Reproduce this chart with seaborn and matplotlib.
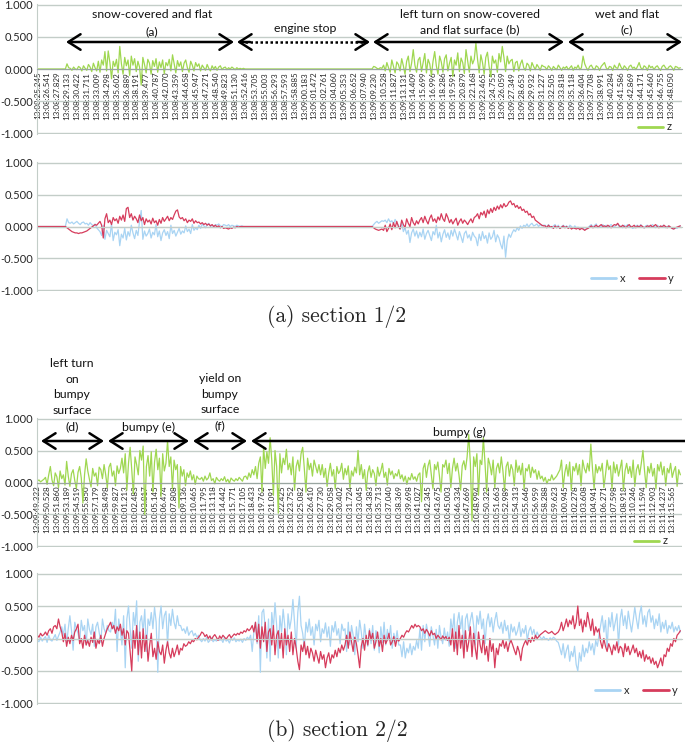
import matplotlib
matplotlib.use("Agg")
import matplotlib.pyplot as plt
from matplotlib.patches import FancyArrowPatch
from matplotlib.lines import Line2D
import seaborn as sns
import pandas as pd

# ---- data (values in 1/100 g, 6 samples per time label) ----
top_ticks = ["13:08:25.245", "13:08:26.541", "13:08:27.829", "13:08:29.133", "13:08:30.422",
             "13:08:31.711", "13:08:33.009", "13:08:34.298", "13:08:35.602", "13:08:36.889",
             "13:08:38.191", "13:08:39.477", "13:08:40.787", "13:08:42.070", "13:08:43.359",
             "13:08:44.658", "13:08:45.947", "13:08:47.271", "13:08:48.540", "13:08:49.823",
             "13:08:51.130", "13:08:52.416", "13:08:53.705", "13:08:55.003", "13:08:56.293",
             "13:08:57.593", "13:08:58.885", "13:09:00.183", "13:09:01.472", "13:09:02.761",
             "13:09:04.060", "13:09:05.353", "13:09:06.652", "13:09:07.940", "13:09:09.230",
             "13:09:10.528", "13:09:11.827", "13:09:13.131", "13:09:14.409", "13:09:15.699",
             "13:09:16.996", "13:09:18.286", "13:09:19.591", "13:09:20.879", "13:09:22.168",
             "13:09:23.465", "13:09:24.755", "13:09:26.059", "13:09:27.349", "13:09:28.653",
             "13:09:29.932", "13:09:31.227", "13:09:32.505", "13:09:33.818", "13:09:35.118",
             "13:09:36.404", "13:09:37.708", "13:09:38.991", "13:09:40.284", "13:09:41.586",
             "13:09:42.869", "13:09:44.171", "13:09:45.460", "13:09:46.755", "13:09:48.050"]

bot_ticks = ["13:09:49.322", "13:09:50.528", "13:09:51.860", "13:09:53.189", "13:09:54.519",
             "13:09:55.850", "13:09:57.179", "13:09:58.498", "13:09:59.827", "13:10:01.213",
             "13:10:02.483", "13:10:03.817", "13:10:05.145", "13:10:06.474", "13:10:07.808",
             "13:10:09.136", "13:10:10.465", "13:10:11.795", "13:10:13.118", "13:10:14.442",
             "13:10:15.771", "13:10:17.105", "13:10:18.433", "13:10:19.762", "13:10:21.091",
             "13:10:22.425", "13:10:23.752", "13:10:25.082", "13:10:26.410", "13:10:27.730",
             "13:10:29.058", "13:10:30.402", "13:10:31.724", "13:10:33.045", "13:10:34.383",
             "13:10:35.713", "13:10:37.040", "13:10:38.369", "13:10:39.698", "13:10:41.027",
             "13:10:42.345", "13:10:43.675", "13:10:45.003", "13:10:46.334", "13:10:47.669",
             "13:10:48.994", "13:10:50.322", "13:10:51.663", "13:10:52.989", "13:10:54.313",
             "13:10:55.646", "13:10:56.959", "13:10:58.288", "13:10:59.623", "13:11:00.945",
             "13:11:02.278", "13:11:03.608", "13:11:04.941", "13:11:06.271", "13:11:07.598",
             "13:11:08.918", "13:11:10.246", "13:11:11.594", "13:11:12.903", "13:11:14.237",
             "13:11:15.565"]

top_z = ([0] * 18 + [8, 2,
          1, -2, 3, 0, -1, 4, 2, -3, 5, 1, -2, 7, 3, -4, 9, 2, -3, 12,
          -5, 14, 6, 27, -3, 28, 10, -15, 12, 4, 15, -6, 35, 8, -8, 18, 5, 14, -10, 20,
          6, 16, -4, 12, 3, -25, 18, 7, -6, 15, 9, -8, 13, 4, 16, -5, 11, 2, 14, -7,
          10, 5, 15, -3, 22, 8, -6, 13, 4, 11, -4, 9, 14, 2, -5, 12, 6, -3, 10, 4,
          8, -3, 6, 2, -2, 7, 1, -3, 5, 0, 4, -2, 3, 5, -1, 2, 3, -1, 2, 0, 3, 1, -1, 2, 0, 1, 0, 1]
         + [0] * 78 +
         [4, 3, 1, 0, 2, 1,
          6, -3, 10, 2, -5, 14, 4, -6, 11, 7, -3, 16, 5, -8, 12, 20, -4, 9, 30, 6, -5, 14,
          18, -4, 10, 24, -6, 15, 8, -10, 12, 27, 5, -8, 20, 11, -5, 16, 22, -3, 9, 18,
          -12, 14, 6, 25, -4, 17, 10, -7, 30, 12, -5, 20, 8, 15,
          40, 15, -6, 22, 10, -8, 18, 26, 4, -12, 20, 9, 14, -5, 24, 11, 35, 18, -4, 20, 8, 13,
          15, -4, 10, 12, -3, 8, 14, 2, -2, 9, 6, -3, 10, 4, -1, 7, 3, -2, 6, 4,
          3, -1, 5, 2, -2, 4, 1, -1, 6, 2, -2, 3, 1, 4, -1, 2, 5, -2, 3, 1, 6, -1, 2, 20,
          8, 2, -2, 4, 6, 1, -1, 5, 3, -2, 4, 7, 10, 2, -1, 4, 3, -2, 6, 2, 1, 9, 3, -1,
          5, 2, -2, 4, 6, 1, 3, -1, 4, 10, 2, -1, 5, 3, -2, 6, 2, 4, -1, 3, 5, 1, -2, 4,
          6, 2, -1, 3, 5, 2, -2, 4, 3, 1, 2])

top_x = ([0] * 18 + [12, 6,
          5, 7, 4, 6, 8, 5, 3, 6, 7, 4, 5, 2, 6, 3, 1, 4, -2, -5,
          -8, -14, 2, -20, -6, -11, -16, 4, -22, -9, -13, -5, -30, -12, -18, -3, -21, -8, -15, 2,
          -10, -19, -6, -14, 8, 25, -20, -7, -15, -11, -4, -18, -9, -13, 3, -16, -7, -22, -10, -5,
          -14, -8, -19, 2, -11, -6, -15, -9, -3, -12, -7, -10, 1, -8, -4, -11, 3, -6, -2, -5,
          2, -3, 4, 1, -2, 3, 5, 0, 2, -1, 3, 2, 4, 1, 0, 3, 2, 1, 3, 0, 2, 1, 0, 2, 1, 0, 1, 0]
         + [0] * 78 +
         [3, 6, 8, 5, 7, 9,
          8, 10, 6, 12, 7, 9, 4, 11, 5, 2, -4, 6, -8, -2, -12, -6, -25, -10, -4, -15, -7, -18,
          -9, -16, -4, -20, -11, -6, -14, -22, -8, -13, 2, -18, -9, -24, -12, -5, -17, -10, -20, -6,
          -15, -4, -12, -21, -8, -16, -25, -11, -7, -18, -13, -22, -9, -15,
          -18, -30, -12, -22, -8, -19, -14, -26, -10, -20, -16, -6, -24, -13, -18, -28, -35, -15,
          -48, -22, -12, -17,
          -10, -5, -8, -2, -6, 1, -3, 2, 0, 4, -1, 3, 5, 1, 2, 4, 0, 3, 1, 2,
          2, -1, 3, 0, -2, 1, 3, -1, 2, -3, 0, 2, -1, 1, -2, 2, 0, -3, 1, -2, -1, -4, -2, -3,
          -5, -4, -2, 1, 3, -1, 2, 4, -2, 1, 0, 3, -1, 2, -2, 1, 3, 0, -1, 2, 4, -1, 1, -2,
          2, 0, 3, -1, 1, -3, -2, 1, 2, -1, 3, 0, -2, 1, 2, -1, 0, 3, 1, -2, 2, 0, -1, 1,
          2, -2, 0, 1, -1, -3, -4, -2, -3, 0, 1])

top_y = ([0] * 18 + [-2, -4,
          -6, -8, -9, -10, -10, -11, -10, -10, -9, -8, -7, -5, -3, -1, 1, 3, 2, 5,
          8, 2, -18, 12, 20, 6, 10, 3, 14, 9, 12, 5, 16, 10, 18, 8, 28, 30, 14, 20,
          10, 16, 12, 6, 18, 9, 14, 3, 12, 7, 10, 4, 13, 6, 9, 2, 11, 5, 14, 8,
          12, 16, 9, 14, 11, 18, 24, 26, 15, 12, 14, 9, 12, 6, 10, 8, 12, 5, 9, 6,
          7, 4, 6, 3, 5, 2, 4, 1, 3, 0, 2, -1, 1, -2, 0, -3, -2, -3, -4, -2, -3, -1, -2, 0, -1, 0, 0, 0]
         + [0] * 78 +
         [-2, -4, -5, -6, -5, -4,
          -6, 2, -8, -3, 4, -5, 6, -2, 8, 0, -4, 10, 3, -2, 12, 5, 0, 14, 6, 2, 9, 4,
          10, 14, 6, 16, 9, 4, 13, 18, 8, 12, 6, 15, 10, 20, 12, 8, 20, 14, 6, 11,
          4, 9, 13, 2, 8, 12, 5, 10, 7, 3, 8, 12, 6, 14,
          16, 20, 12, 22, 18, 24, 14, 26, 20, 28, 22, 30, 25, 32, 27, 34, 29, 36, 31, 33, 38, 40,
          34, 36, 30, 33, 28, 31, 25, 27, 22, 24, 18, 20, 14, 16, 10, 8, 6, 4, 2, 1,
          1, -2, 2, -1, 0, -3, 1, -2, 0, -3, -1, 1, -2, 0, -3, -1, -4, -2, -3, -4, -2, -5, -3, -4,
          -6, -4, -3, -1, 1, -2, 0, 2, -1, 1, 3, 0, 1, -1, 2, 0, -2, 1, 3, 2, 5, 1, -1, 2,
          0, -2, 1, 3, -1, 0, 2, -2, 1, -1, 2, 0, -2, -1, 1, 0, 2, -1, 1, 3, 0, -2, 1, -1,
          2, 0, -2, 1, -1, -3, -4, -2, -1, 0, 1])

bot_z = [2, 4, 1, 3, 5,
         8, -3, 12, 25, 4, -5, 15, 9, -8, 18, 6, 12, -4, 33, 10, -6, 14, 20, 3, -9,
         16, 25, 7, -32, 12, 37, 18, 5, -7, 22, 10, 15, -5, 24,
         20, 6, 28, 12, -8, 24, 30, 10, 18, -5, 26, 14,
         22, 38, 15, 45, -12, 30, 55, 20, -18, 40, 28, 12, 50, 35, 57, -50, 25, 42, 10, 48,
         -15, 32, 52, 20, 38, -22, 45, 18, 30, 65, 25, 40, -10, 35, 20, 28, -40,
         25, 10, 20, -5, 15, 8, 18, 4, 12, -3, 10, 6,
         5, 8, 2, 10, 4, 7, 15, 3, 6, -2, 8, 4, 2, 6, 3, 9, 1, 5, -1, 7, 4, 2, 6, 3, 8, 5, 2, 9,
         10, 5, 15, 8, 20, 12, 25, 6, 30,
         40, -15, 55, 22, 48, 30, 70, 35, -20, 50, 25, -48, 45, 15, 38, 28, 52, 20,
         30, 12, 40, -12, 25, 35, 18, 45, 55, 22, -15, 38, 20, 30, 10, 35, 25, 15, 28,
         12, 28, 8, 22, -6, 15, 30, 10, 20, -10, 25, 14, 18, 30, 5, 22, 12, 26, -8, 18,
         10, 24, 15, 50, 12, 28, 6, 20, -12, 16, 26, 8, 20, 14, -5, 24, 10, 18, 30, 8,
         16, -4, 22, 12, 18, 6, 14, 10, 20,
         6, 12, 2, 10, -3, 8, 4, 14, 5, 9, 2, 12,
         15, -30, 22, 30, 8, 26, 35, 12, -10, 28, 20, 32, 10, -15, 28, 24, 35, 14, 30, -8,
         22, 38, 18, 30, 12, -12, 26, 34, 20, 40, 75,
         30, -60, 40, 25, 45, -20, 35, 28, 70, 30, -15, 38,
         28, 12, 35, -8, 22, 30, 15, 40, 18, -12, 25, 32, 10, 28, 20, -5, 35, 16, 26, 12,
         30, -10, 22, 18, 28, 8, 24, 15, 20, 5, 18,
         6, 10, 2, 8, -2, 5, 3, 12, 4, 7, 10, 15,
         20, 35, -8, 15, 28, 10, 32, -12, 25, 18, 30, 12, 28, -5, 35, 22, 15, 30, 18, 60,
         22, -10, 28, 15, 25,
         18, 30, -8, 12, 35, 20, 26, -10, 32, 15, 28, 10, 22, 35, -12, 18, 30, 14, 25, 8,
         35, -6, 20, 28, 12, 30, 50, 18, -8, 25, 15, 30, 10, 22, -10, 28, 18, 32, 12, 25,
         -5, 22, 15, 30, 8, 18, 25, -6, 20, 12]

bot_x = [-3, -5, 2, -4, 0, 3, -6, 5, -2, -4, 1, 6, -3, 4,
         10, 18, 5, 22, -8, 15, 35, 12, -18, 25, 15, 8, -5, 28, 12, 20, -10, 30, 14, 6,
         22, -12, 18, 25, 10, -6, 30, 15, 8, 20, 12,
         10, 25, 15, 45, -20, 30, 12, -10, 35, -45, 30, 50, 15, -15, 40, 20, 58, -35, 25, 35,
         10, 45, -20, 30, 20, 40, 15,
         48, 25, -52, 30, 50, 15, 35, 42, -10, 38, 20, 45, 25, 15, 35, 20,
         20, 12, 15, 8, 18, 5, 10, 12, 4, 8, 2, 5,
         -2, -5, 0, -4, 2, -6, -3, 1, -5, -2, -4, 0, -3, -1, -6, 2, -4, -2, -7, 0,
         -3, 1, -5, -2, -4, -1, -6, 0, -3, 2, -1,
         5, -20, 10, 25, -8, 35, -52, 40, 45, 15, -30, 30, -35, 40, 15, 55, 20, -30, 35, 10,
         45, 20, -25, 38, 15, 30, 60, 25, -15, 40, 65,
         20, 8, -15, 25, 10, 30, 5, 18, -10, 22, 12, 28, -5, 15, 8, 24, 2, 18, -12, 20,
         10, 26, 5, 15, -8, 22, 12,
         15, -20, 25, -10, 20, 5, -25, 18, -5, 28, 10, -15, 22, 0, -12, 15, -8, 20, -18, 12,
         5, -22, 18, -6, 25, -10, 14, -2, 20, -15, 8, -5, 12, -10,
         -10, -28, -5, -30, -15, -22, -8, -25, -12, -18, -3, -15,
         15, -18, 20, -5, 22, 8, -12, 18, 5, -10, 14, -15, 20, 2, -8, 16, -3, 10, -12,
         30, 10, 38, -15, 25, 40, 15, 35, -20, 30, 38, 12, 28, 40, 20, -10, 35, 22, 42, 15,
         30, -8, 25, 38, 18, 32, 10, 28, 40, 20,
         15, 25, 8, 28, 12, 20, -5, 22, 10, 18, 5, 12, 25, 3, 15, 8, 20, -3, 12, 18,
         6, 14, 2, 10, 4,
         2, -2, 3, -1, 0, -3, 1, -2, 2, 0, -4, -6,
         -15, -25, -8, -30, -18, -10, -35, -20, -28, -12, -40, -50, -22, -35, -10, -28, -15, -22,
         -5, -18, -8, -25, -3, -12, 5,
         20, 35, 10, 28, -15, 32, 18, 40, 12, 25, 38, -10, 30, 45, 20, 35, 15, 42, 25, 10,
         28, 48, 30, 15, 38, 50, 22, 35, 18, 40, 45, 25, 35, 15, 30, 20, 38, 10, 25, 15,
         28, 8, 20, 15, 25, 10, 18, 12, 20, 10]

bot_y = [5, 2, 8, 4, 6, 10, 5, 12, 15, 8, 18, 20, 15, 30,
         18, 10, -5, 8, -12, 2, -8, 5, -3, 10, 15, 22, -8, 0, -15, 5, -10, -3, -12, 2,
         -6, 10, -15, -2, -8, 5, -12, 0, 8, 15, 20,
         25, 15, 20, 8, 18, 12, 22, 5, 15, -10, 12, 8, -20, -50, 12, -15, 20, -25,
         10, -30, 15, -20, 5, -35, -10, 8, -28, -15, -32, -5, -20, -25, -10, -38, -18, -5, -22, -30,
         -15, -28, -20, -10, -25,
         -15, -18, -8, -12, -10, -5, -8, -3, -5, 0, -2, 2,
         5, 10, 8, 3, 6, 0, 4, -2, 3, 6, 2, -3, 4, 0, 5, 2, -1, 3, 6, 1,
         4, 7, 5, 8, 6, 10, 8, 12, 10, 15, 12,
         15, 20, 10, 25, -5, 22, -15, 18, -5, 25, -20, 10, 15, -10, 20, -25, 5, 12, -15, 8,
         -30, 15, -10, 5, -20, 10, -25, 0, -15, -35, -48,
         -10, -20, -5, -25, -12, -30, -15, -22, -35, -18, -28, -38, -20, -32, -25, -45, -30, -22,
         -38, -25, -30, -18, -28, -15, -22, -10, -18,
         -10, 5, -15, 10, -5, -20, 2, -8, -25, -45, -12, 0, -18, 5, -10, 12, -2, 8, -15, -5,
         10, -12, 0, -20, 5, -8, -2, 8, -10, -5, 3, -12, 0, -4,
         0, 5, 2, 8, 12, 10, 15, 20, 16, 22, 18, 20,
         18, 12, 15, 8, 14, 10, 4, 12, 6, 8, 0, 5, 2, -2, 4, 0, 3, -3, 2,
         -10, 15, -20, 10, -25, 20, -15, 5, -30, 12, -20, -5, 18, -28, 8, -15, -32, 10, -10, -22,
         5, -25, -12, -35, 0, -20, -8, -45, -15, -25,
         -8, -12, -2, -15, -5, -20, -8, -3, -10, -18, -25, -12, -20, -34, -15, -8, -3, -10, 0, -6,
         2, -4, 5, 0, 3,
         6, 8, 10, 12, 10, 8, 9, 11, 8, 6, 8, 10,
         15, 25, 12, 20, 30, 18, 28, 22, 35, 15, 25, 50, 20, 30, 10, 28, 18, 40, 25, 12,
         30, 5, 18, 10, 15,
         -5, -15, 0, -12, -20, -8, -15, -25, -10, -18, -5, -22, -12, -15, -28, -8, -20, -12, -25, -18,
         -10, -22, -15, -28, -20, -30, -18, -35, -25, -32, -28, -38, -30, -40, -35, -45, -38, -30,
         -42, -25, -28, -15, -20, -8, -12, 0, -5, 5, 8, 12]

per_label = 6
GREEN = "#9fd751"
BLUE = "#a9d4f3"
RED = "#d63c5c"
GRID = "#c3cdc8"

sns.set_style("white")
plt.rcParams['font.family'] = ['Lato', 'DejaVu Sans']

W, H = 685, 743
fig = plt.figure(figsize=(W / 100, H / 100), dpi=100)


def frame(ax, x_max):
    ax.set_ylim(-1.008, 1.008)
    ax.set_xlim(-0.2, x_max)
    ax.set_yticks([-1, -0.5, 0, 0.5, 1])
    ax.set_yticklabels(["-1.000", "-0.500", "0.000", "0.500", "1.000"], fontsize=8)
    ax.grid(axis='y', color=GRID, lw=1)
    ax.grid(axis='x', visible=False)
    for s in ['top', 'right']:
        ax.spines[s].set_visible(False)
    ax.spines['left'].set_color(GRID)
    ax.spines['bottom'].set_position(('data', 0))
    ax.spines['bottom'].set_color("#9aa6a1")
    ax.tick_params(axis='y', length=0, pad=3)
    ax.set_xlabel("")
    ax.set_ylabel("")


def series(vals):
    return pd.DataFrame({"i": range(len(vals)), "v": [v / 100 for v in vals]})


def thick_legend(leg):
    for ln in leg.get_lines():
        ln.set_linewidth(2.0)


def z_panel(rect, z, ticks, x_max, leg_xy):
    ax = fig.add_axes(rect)
    sns.lineplot(data=series(z), x="i", y="v", ax=ax, color=GREEN, lw=0.9, label="z")
    frame(ax, x_max)
    ax.set_xticks([i * per_label for i in range(len(ticks))])
    ax.set_xticklabels(ticks, rotation=90, fontsize=5.8, va='top')
    ax.tick_params(axis='x', length=0, pad=2)
    leg = ax.legend(loc='center left', bbox_to_anchor=(leg_xy[0] / W, 1 - leg_xy[1] / H),
                    bbox_transform=fig.transFigure, frameon=False, fontsize=8,
                    handlelength=2.3, handletextpad=0.3, borderpad=0)
    thick_legend(leg)
    return ax


def xy_panel(rect, x, y, x_max, leg_xy):
    ax = fig.add_axes(rect)
    sns.lineplot(data=series(x), x="i", y="v", ax=ax, color=BLUE, lw=0.9, label="x")
    sns.lineplot(data=series(y), x="i", y="v", ax=ax, color=RED, lw=0.9, label="y")
    frame(ax, x_max)
    ax.spines['bottom'].set_color(GRID)
    ax.set_xticks([])
    leg = ax.legend(loc='center left', bbox_to_anchor=(leg_xy[0] / W, 1 - leg_xy[1] / H),
                    bbox_transform=fig.transFigure, frameon=False, fontsize=8, ncol=2,
                    handlelength=2.3, handletextpad=0.3, columnspacing=1.3, borderpad=0)
    thick_legend(leg)
    return ax


def rect(top, bottom):
    return [37 / W, 1 - bottom / H, 645 / W, (bottom - top) / H]


z_panel(rect(4, 134), top_z, top_ticks, 391, (632, 127))
xy_panel(rect(162, 291), top_x, top_y, 391, (585, 278))
z_panel(rect(418, 547), bot_z, bot_ticks, 396, (628, 541))
xy_panel(rect(573, 704), bot_x, bot_y, 396, (589, 690))


def label(x, y, s):
    fig.text(x / W, 1 - y / H, s, ha='center', va='center', fontsize=8.8,
             linespacing=1.55, color="#111111")


def arrow(x1, x2, y, style='<->'):
    fig.add_artist(FancyArrowPatch((x1 / W, 1 - y / H), (x2 / W, 1 - y / H),
                                   transform=fig.transFigure,
                                   arrowstyle=style + ',head_length=0.55,head_width=0.35',
                                   mutation_scale=16, lw=1.8, color='black',
                                   shrinkA=0, shrinkB=0))


# section (a)
label(152, 15, "snow-covered and flat")
label(152, 32, "(a)")
arrow(66, 234, 42)
label(305, 28, "engine stop")
fig.add_artist(Line2D([240 / W, 367 / W], [1 - 42 / H, 1 - 42 / H], transform=fig.transFigure,
                      color='black', lw=1.8, ls=(0, (1, 1))))
arrow(250, 237, 42, '->')
arrow(357, 370, 42, '->')
label(470, 14, "left turn on snow-covered")
label(470, 30, "and flat surface (b)")
arrow(373, 564, 42)
label(627, 14, "wet and flat")
label(627, 30, "(c)")
arrow(568, 682, 42)

# section (b)
label(72, 395, "left turn\non\nbumpy\nsurface\n(d)")
arrow(41, 104, 441)
label(148, 427, "bumpy (e)")
arrow(108, 189, 441)
label(220, 402, "yield on\nbumpy\nsurface\n(f)")
arrow(193, 247, 441)
label(459, 432, "bumpy (g)")
arrow(251, 685, 441, '<-')

fig.text(337 / W, 1 - 317 / H, "(a) section 1/2", ha='center', va='center',
         family='cmr10', fontsize=15.5)
fig.text(337 / W, 1 - 730 / H, "(b) section 2/2", ha='center', va='center',
         family='cmr10', fontsize=15.5)

fig.savefig("out.png", dpi=100)
